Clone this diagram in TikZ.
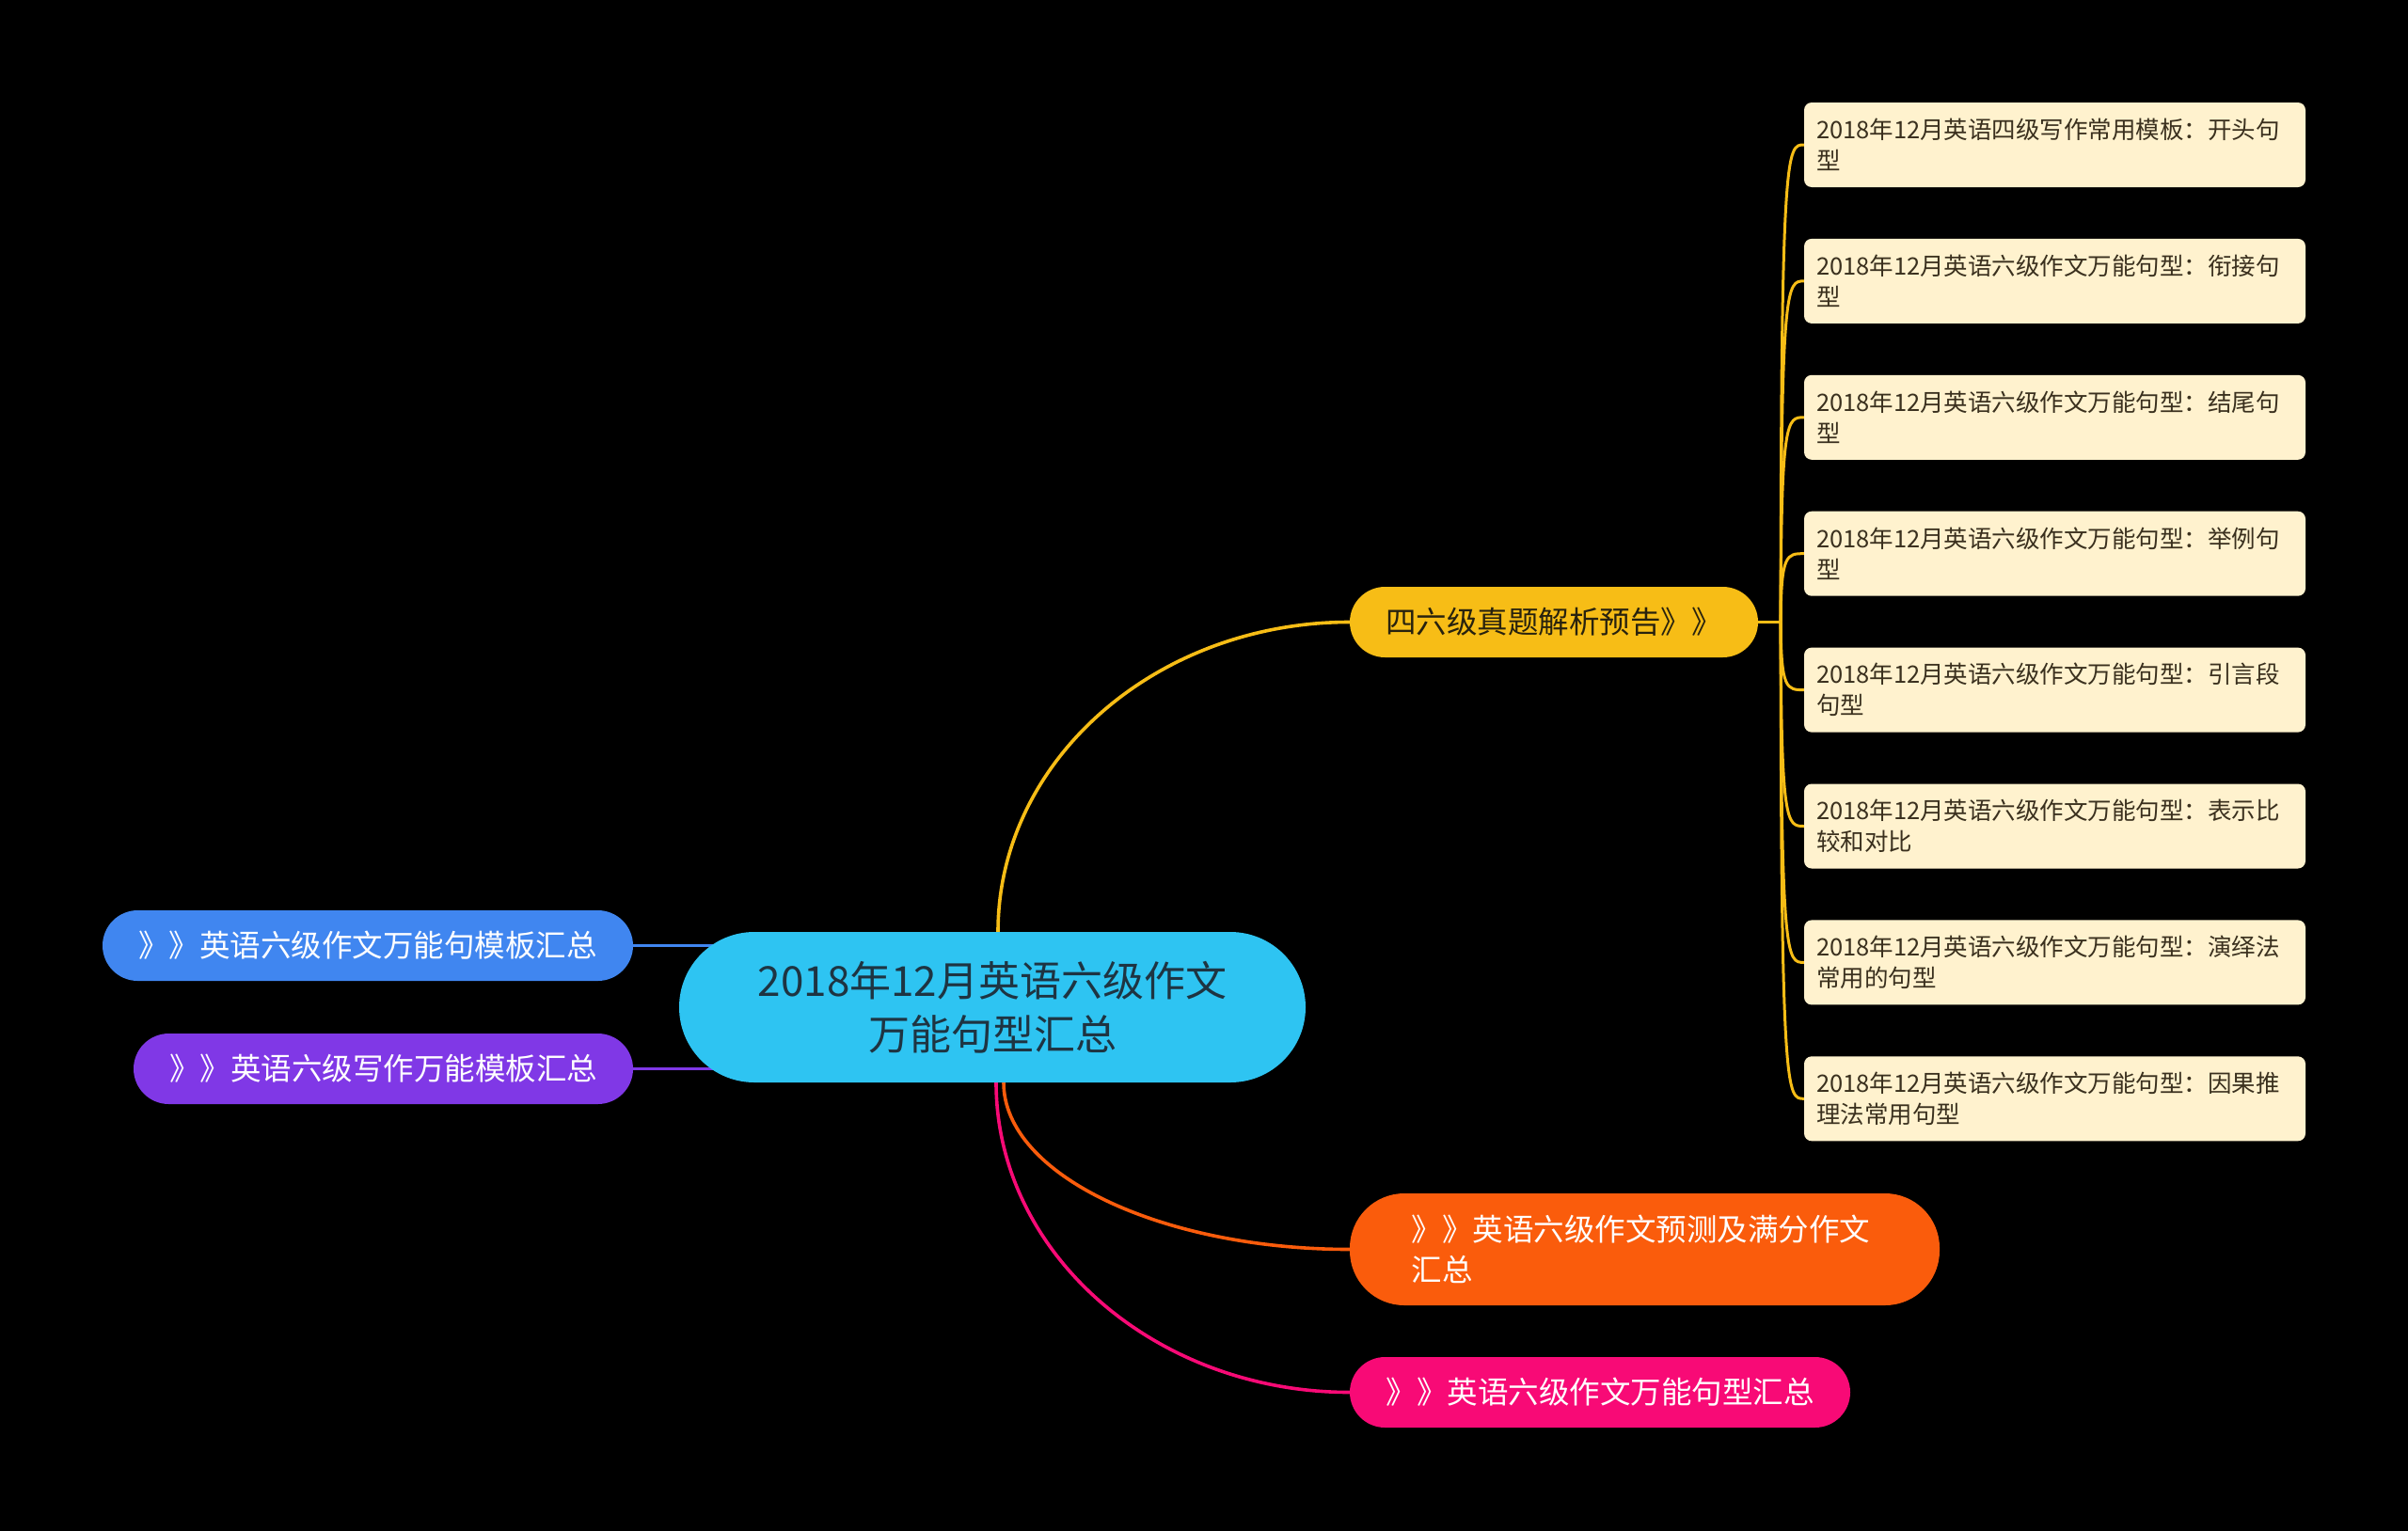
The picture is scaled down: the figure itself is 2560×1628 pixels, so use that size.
\documentclass[tikz,border=0pt]{standalone}
\usepackage{fontspec}
\setmainfont{Noto Sans CJK SC}
\usetikzlibrary{calc}
\pgfdeclarelayer{back}
\pgfdeclarelayer{bg}
\pgfsetlayers{back,bg,main}
\definecolor{cenc}{RGB}{46,196,242}
\definecolor{cent}{RGB}{30,52,66}
\definecolor{bluec}{RGB}{64,134,240}
\definecolor{purpc}{RGB}{128,56,230}
\definecolor{yelc}{RGB}{247,189,22}
\definecolor{orgc}{RGB}{250,92,12}
\definecolor{pinkc}{RGB}{248,10,118}
\definecolor{leafc}{RGB}{255,242,206}
\definecolor{leaft}{RGB}{58,48,30}
\definecolor{yelt}{RGB}{40,34,14}
\begin{document}
\begin{tikzpicture}[x=1pt,y=-1pt,
  cen/.style={fill=cenc,text=cent,minimum width=666pt,minimum height=160pt,rounded corners=80pt,inner sep=0pt,align=center,font=\fontsize{44}{57}\selectfont},
  branch/.style={fill=#1,minimum height=75pt,rounded corners=37.5pt,inner sep=0pt,font=\fontsize{32.5}{42.5}\selectfont,text=white},
  leafbox/.style={fill=leafc,text=leaft,rounded corners=8pt,text width=507pt,inner xsep=13pt,inner ysep=0pt,minimum height=90pt,align=left,font=\fontsize{25.5}{33}\selectfont},
  conn/.style={line width=3.6pt,draw=#1},
  lconn/.style={line width=3pt,draw=yelc}]
\begin{pgfonlayer}{back}
\fill[black] (0,0) rectangle (2560,1628);
\end{pgfonlayer}
\path[use as bounding box] (0,0) rectangle (2560,1628);
\node[cen] (c) at (1055,1071) {2018年12月英语六级作文\\万能句型汇总};
\node[branch=bluec,minimum width=564pt] (b1) at (391,1005.5) {》》英语六级作文万能句模板汇总};
\node[branch=purpc,minimum width=531pt] (b2) at (407.5,1136.5) {》》英语六级写作万能模板汇总};
\node[branch=yelc,minimum width=434pt,text=yelt] (b3) at (1652,661.5) {四六级真题解析预告》》};
\node[branch=orgc,minimum width=627pt,minimum height=119pt,rounded corners=58pt,align=left] (b4) at (1748.5,1328.5) {\hspace*{-8pt}》》英语六级作文预测及满分作文\\\hspace*{-8pt}汇总};
\node[branch=pinkc,minimum width=532pt] (b5) at (1701,1480.5) {》》英语六级作文万能句型汇总};
\node[leafbox] (l1) at (2184.5,154) {2018年12月英语四级写作常用模板：开头句\\型};
\node[leafbox] (l2) at (2184.5,298.9) {2018年12月英语六级作文万能句型：衔接句\\型};
\node[leafbox] (l3) at (2184.5,443.8) {2018年12月英语六级作文万能句型：结尾句\\型};
\node[leafbox] (l4) at (2184.5,588.7) {2018年12月英语六级作文万能句型：举例句\\型};
\node[leafbox] (l5) at (2184.5,733.6) {2018年12月英语六级作文万能句型：引言段\\句型};
\node[leafbox] (l6) at (2184.5,878.5) {2018年12月英语六级作文万能句型：表示比\\较和对比};
\node[leafbox] (l7) at (2184.5,1023.4) {2018年12月英语六级作文万能句型：演绎法\\常用的句型};
\node[leafbox] (l8) at (2184.5,1168.3) {2018年12月英语六级作文万能句型：因果推\\理法常用句型};
\coordinate (jn) at ([xshift=24pt]b3.east);
\begin{pgfonlayer}{bg}
\draw[conn=bluec] (b1.east) -- ([xshift=90pt]b1.east);
\draw[conn=purpc] (b2.east) -- ([xshift=90pt]b2.east);
\draw[conn=yelc] ([xshift=6pt]c.north) .. controls +(0,-182) and +(-206,0) .. (b3.west);
\draw[conn=orgc] ([xshift=12pt]c.south) .. controls +(0,98) and +(-200,0) .. (b4.west);
\draw[conn=pinkc] ([xshift=4pt]c.south) .. controls +(0,182) and +(-206,0) .. (b5.west);
\draw[lconn] (b3.east) -- (jn);
\foreach \k in {1,...,8}{
  \draw[lconn] (jn) .. controls (jn |- l\k.west) and ([xshift=-18pt]l\k.west) .. (l\k.west);
}
\end{pgfonlayer}
\end{tikzpicture}
\end{document}
